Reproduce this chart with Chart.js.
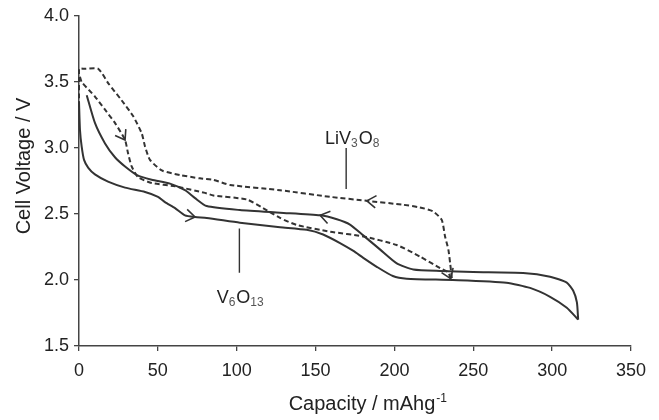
<!DOCTYPE html>
<html>
<head>
<meta charset="utf-8">
<script src="https://cdn.jsdelivr.net/npm/chart.js@4.4.1/dist/chart.umd.min.js"></script>
<style>
html,body{margin:0;padding:0;background:#fff}
</style>
</head>
<body>
<canvas id="chart" width="659" height="420"></canvas>
<script>
// axis ticks
const xTicks = [0, 50, 100, 150, 200, 250, 300, 350];
const yTicks = [1.5, 2.0, 2.5, 3.0, 3.5, 4.0];

// V6O13 discharge (solid, lower branch)
const v6DisCap = [0, 0.6, 1.7, 3.2, 5.9, 10.1, 18.4, 29.2, 41.9, 50.1, 54.5, 60.9, 67.2, 73.6, 81, 102, 127.5, 144.4, 154.8, 165.5, 174, 180, 188.8, 199, 207.8, 237, 271, 286, 298.7, 309.3, 316.5];
const v6DisV   = [3.35, 3.14, 3.01, 2.91, 2.85, 2.80, 2.745, 2.70, 2.667, 2.63, 2.59, 2.545, 2.49, 2.477, 2.47, 2.434, 2.40, 2.38, 2.345, 2.28, 2.22, 2.17, 2.10, 2.03, 2.01, 2.0, 1.98, 1.94, 1.873, 1.79, 1.70];

// V6O13 charge (solid, upper branch, runs right to left)
const v6ChCap = [316.5, 315.7, 313.3, 309.3, 298.7, 281.6, 250, 229, 212, 201.5, 191, 180, 171.8, 163.5, 152.9, 127.5, 102, 81, 73.6, 67.2, 57.7, 46.1, 36.8, 29.2, 22.8, 16.5, 10.1, 4.9];
const v6ChV   = [1.70, 1.83, 1.92, 1.98, 2.025, 2.053, 2.06, 2.068, 2.08, 2.126, 2.23, 2.34, 2.42, 2.46, 2.49, 2.51, 2.53, 2.56, 2.62, 2.68, 2.73, 2.76, 2.795, 2.86, 2.93, 3.035, 3.19, 3.40];

// LiV3O8 charge (dashed, runs right to left)
const liChCap = [236.4, 235.3, 234.2, 232.1, 230, 224.5, 216, 205.5, 182.5, 159.2, 127.5, 95.8, 85.2, 76.7, 64, 52.5, 45, 41.9, 39.8, 34.4, 27.1, 18.6, 12.2, 3.4, 0, 0];
const liChV   = [2.015, 2.13, 2.23, 2.33, 2.455, 2.52, 2.55, 2.57, 2.60, 2.63, 2.68, 2.72, 2.758, 2.77, 2.795, 2.83, 2.91, 3.01, 3.11, 3.24, 3.36, 3.49, 3.60, 3.60, 3.60, 3.30];

// LiV3O8 discharge (dashed)
const liDisCap = [0.6, 1.7, 10.1, 16.5, 22.8, 29.2, 31.1, 33.4, 37.4, 46.1, 60.9, 79.9, 85.2, 106.4, 116.7, 127.5, 138, 159.2, 180.3, 201.5, 216.3, 229, 234, 235.7];
const liDisV   = [3.54, 3.50, 3.39, 3.29, 3.19, 3.06, 2.96, 2.86, 2.78, 2.735, 2.71, 2.66, 2.64, 2.61, 2.545, 2.47, 2.417, 2.366, 2.33, 2.265, 2.177, 2.09, 2.06, 2.01];

const pts = (xs, ys) => xs.map((x, i) => ({x: x, y: ys[i]}));

const ink = "#333";
const font = "'Liberation Sans', Arial, sans-serif";

function line(xs, ys, dashed){
  return {
    data: pts(xs, ys),
    showLine: true,
    borderColor: ink,
    borderWidth: 2,
    borderDash: dashed ? [5, 3] : [],
    pointRadius: 0,
    tension: 0.2,
    clip: false
  };
}

// arrowheads: dataset index, point index (direction from previous point)
const arrows = [
  {ds: 0, i: 13},
  {ds: 1, i: 14},
  {ds: 2, i: 8},
  {ds: 3, i: 5},
  {ds: 3, i: 23}
];

function chem(ctx, x, y, parts){
  parts.forEach(p => {
    if (p[1]) {
      ctx.font = "12px " + font;
      ctx.fillStyle = "#555";
      ctx.fillText(p[0], x, y + 3);
    } else {
      ctx.font = "18px " + font;
      ctx.fillStyle = "#222";
      ctx.fillText(p[0], x, y);
    }
    x += ctx.measureText(p[0]).width + (p[1] ? 1 : 0);
  });
}

const annot = {
  id: "annot",
  afterDatasetsDraw(chart){
    const ctx = chart.ctx;
    const xs = chart.scales.x, ys = chart.scales.y;
    ctx.save();
    ctx.strokeStyle = ink;
    ctx.lineWidth = 1.6;
    ctx.setLineDash([]);

    arrows.forEach(a => {
      const d = chart.getDatasetMeta(a.ds).data;
      const p = d[a.i], q = d[a.i - 1];
      const ang = Math.atan2(p.y - q.y, p.x - q.x);
      const len = 11;
      ctx.beginPath();
      ctx.moveTo(p.x + len * Math.cos(ang + Math.PI - 0.6), p.y + len * Math.sin(ang + Math.PI - 0.6));
      ctx.lineTo(p.x, p.y);
      ctx.lineTo(p.x + len * Math.cos(ang + Math.PI + 0.6), p.y + len * Math.sin(ang + Math.PI + 0.6));
      ctx.stroke();
    });

    // leader lines
    ctx.lineWidth = 1.4;
    ctx.beginPath();
    ctx.moveTo(xs.getPixelForValue(169.4), ys.getPixelForValue(3.0));
    ctx.lineTo(xs.getPixelForValue(169.4), ys.getPixelForValue(2.69));
    ctx.moveTo(xs.getPixelForValue(101.7), ys.getPixelForValue(2.39));
    ctx.lineTo(xs.getPixelForValue(101.7), ys.getPixelForValue(2.055));
    ctx.stroke();

    ctx.textAlign = "left";
    ctx.textBaseline = "alphabetic";
    chem(ctx, xs.getPixelForValue(156), ys.getPixelForValue(3.03), [["LiV", 0], ["3", 1], ["O", 0], ["8", 1]]);
    chem(ctx, xs.getPixelForValue(87.3), ys.getPixelForValue(1.823), [["V", 0], ["6", 1], ["O", 0], ["13", 1]]);

    // axis titles
    ctx.fillStyle = "#222";
    ctx.font = "20px " + font;
    ctx.textAlign = "center";
    ctx.fillText("Capacity / mAhg", 362, 410);
    const w = ctx.measureText("Capacity / mAhg").width;
    ctx.font = "12px " + font;
    ctx.textAlign = "left";
    ctx.fillText("-1", 362 + w / 2 + 1, 402);

    ctx.translate(30, 166);
    ctx.rotate(-Math.PI / 2);
    ctx.font = "20px " + font;
    ctx.textAlign = "center";
    ctx.fillText("Cell Voltage / V", 0, 0);
    ctx.restore();
  }
};

new Chart(document.getElementById("chart"), {
  type: "scatter",
  data: {
    datasets: [
      line(v6DisCap, v6DisV, false),
      line(v6ChCap, v6ChV, false),
      line(liChCap, liChV, true),
      line(liDisCap, liDisV, true)
    ]
  },
  options: {
    responsive: false,
    animation: false,
    devicePixelRatio: 1,
    layout: {padding: {top: 16, right: 28, left: 0, bottom: 0}},
    plugins: {legend: {display: false}, tooltip: {enabled: false}},
    scales: {
      x: {
        type: "linear", min: 0, max: 350,
        afterBuildTicks: s => { s.ticks = xTicks.map(v => ({value: v})); },
        afterFit: s => { s.height = 74; },
        ticks: {font: {family: font, size: 18}, color: "#222", padding: 9, maxRotation: 0},
        grid: {drawOnChartArea: false, tickLength: 5, color: "#444", lineWidth: 1.3},
        border: {color: "#444", width: 1.5}
      },
      y: {
        type: "linear", min: 1.5, max: 4.0,
        afterBuildTicks: s => { s.ticks = yTicks.map(v => ({value: v})); },
        afterFit: s => { s.width = 79; },
        ticks: {font: {family: font, size: 18}, color: "#222", padding: 5, callback: v => v.toFixed(1)},
        grid: {drawOnChartArea: false, tickLength: 5, color: "#444", lineWidth: 1.3},
        border: {color: "#444", width: 1.5}
      }
    }
  },
  plugins: [annot]
});
</script>
</body>
</html>
